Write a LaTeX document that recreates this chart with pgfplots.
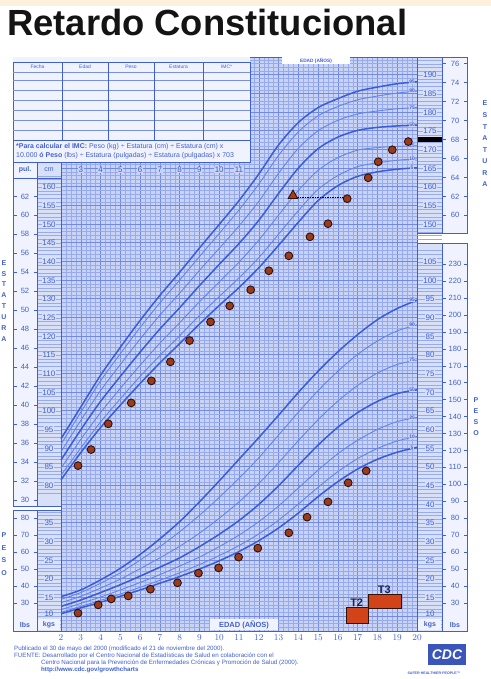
\documentclass[border=0pt]{standalone}
\usepackage{pgfplots}
\usepackage{pgfplotstable}
\pgfplotsset{compat=1.18}
\usepackage{fontspec}
\setmainfont{Liberation Sans}
\definecolor{cream}{HTML}{FDF1DC}
\definecolor{gridbg}{HTML}{C9D3F6}
\definecolor{gridminor}{HTML}{97AAEC}
\definecolor{gridmajor}{HTML}{7189E2}
\definecolor{colbg}{HTML}{D8E0F8}
\definecolor{colwhite}{HTML}{F0F3FE}
\definecolor{curvedark}{HTML}{3A5DD6}
\definecolor{curvelight}{HTML}{6585E6}
\definecolor{lab}{HTML}{4060D0}
\definecolor{pt}{HTML}{9A3B1E}
\definecolor{ptedge}{HTML}{2E1206}
\definecolor{tbox}{HTML}{D2431A}
\definecolor{navy}{HTML}{1C2050}

\pgfplotstableread{
age p5 p10 p25 p50 p75 p90 p95
2 81.5 82.7 84.6 86.8 89.0 91.0 92.5
3 88.8 90.0 92.3 94.9 97.4 99.6 101.0
4 95.5 97.0 99.5 102.5 105.4 108.0 109.5
5 101.5 103.2 106.0 109.2 112.4 115.3 117.0
6 107.3 109.2 112.2 115.7 119.2 122.3 124.2
7 112.8 114.8 118.1 121.9 125.6 128.9 130.9
8 118.0 120.1 123.6 127.6 131.5 135.0 137.1
9 123.2 125.5 129.2 133.5 137.6 141.3 143.6
10 128.2 130.6 134.5 139.2 143.5 147.5 149.9
11 133.0 135.6 139.8 144.8 149.5 153.8 156.3
12 138.3 141.0 145.7 151.0 156.1 160.7 163.4
13 144.3 147.3 152.4 158.2 163.6 168.4 171.2
14 150.5 153.6 159.0 165.0 170.3 174.7 177.2
15 156.3 159.3 164.4 170.2 175.0 179.0 181.2
16 160.3 163.0 167.8 173.3 177.8 181.5 183.6
17 162.8 165.4 169.8 175.1 179.5 183.3 185.6
18 164.0 166.4 170.5 175.9 180.3 184.3 186.7
19 164.7 167.1 170.8 176.3 180.9 185.1 187.6
20 165.1 167.5 171.0 176.5 181.2 185.6 188.1
}\stature

\pgfplotstableread{
age p5 p10 p25 p50 p75 p90 p95
2 10.6 11.0 11.7 12.6 13.6 14.5 15.2
3 12.2 12.6 13.4 14.3 15.3 16.3 17.0
4 13.7 14.2 15.1 16.3 17.5 18.8 19.7
5 15.3 15.9 17.0 18.4 19.9 21.6 22.8
6 17.0 17.7 19.0 20.7 22.7 25.0 26.5
7 18.8 19.6 21.1 23.1 25.6 28.6 30.7
8 20.6 21.6 23.4 25.6 28.7 32.6 35.3
9 22.6 23.8 25.8 28.6 32.2 37.0 40.6
10 24.8 26.2 28.6 31.9 36.2 41.8 46.2
11 27.3 28.9 31.7 35.6 40.6 46.9 52.0
12 30.2 32.0 35.3 39.9 45.5 52.4 57.8
13 33.6 35.7 39.5 44.9 51.1 58.5 63.8
14 37.6 40.0 44.3 50.4 57.0 64.6 69.9
15 42.0 44.5 49.1 55.8 62.6 70.4 75.6
16 46.0 48.7 53.5 60.6 67.6 75.6 80.8
17 49.4 52.2 57.1 64.5 71.8 80.1 85.4
18 52.0 54.9 60.0 67.5 75.1 83.7 89.4
19 53.9 56.9 62.1 69.6 77.4 86.4 92.4
20 55.2 58.1 63.2 70.6 78.6 88.0 94.6
}\weight

\pgfplotstableread{
age cm
2.86 85.3
3.52 89.6
4.39 96.5
5.55 102.1
6.57 108.0
7.53 113.1
8.50 118.8
9.56 123.8
10.53 128.1
11.59 132.4
12.51 137.5
13.52 141.5
14.59 146.6
15.50 150.1
16.47 156.8
17.53 162.4
18.04 166.7
18.75 169.9
19.56 172.1
}\patstat

\pgfplotstableread{
age kg
2.86 10.8
3.88 13.0
4.54 14.6
5.40 15.4
6.52 17.2
7.89 18.9
8.95 21.5
9.97 22.9
10.98 25.8
11.95 28.2
13.52 32.3
14.44 36.5
15.50 40.6
16.52 45.7
17.43 48.9
}\patweight

\pgfplotsset{
  base/.style={scale only axis, width=356bp, height=573.4bp, xmin=2, xmax=20, clip=false},
  thickc/.style={curvedark, line width=1.5bp, smooth},
  thinc/.style={curvelight, line width=0.9bp, smooth},
  patient/.style={only marks, mark=*, mark size=3.9bp, mark options={fill=pt, draw=ptedge, line width=0.9bp}},
}
\tikzset{pctlab/.style={font=\fontsize{5}{5}\selectfont\bfseries, text=lab, fill=gridbg, inner sep=0.4bp}}

\begin{document}
\begin{tikzpicture}[x=1bp,y=1bp]
\useasboundingbox (0,0) rectangle (491,-679);
\fill[white] (0,0) rectangle (491,-679);
\fill[cream] (0,0) rectangle (491,-6);
\coordinate (AX) at (61,-631);
\node[anchor=base west, inner sep=0, font=\fontsize{36.5}{36.5}\selectfont\bfseries, text=black!92] at (7,-36) {Retardo Constitucional};

% ---------- weight axis with the grid ----------
\begin{axis}[base, at={(AX)}, anchor=south west, ymin=6, ymax=159.6,
  axis background/.style={fill=gridbg},
  axis line style={lab, line width=0.6bp},
  xtick={2,...,20}, minor x tick num=3,
  ytick={5,10,...,160}, minor y tick num=4, yticklabels={},
  major tick length=0, minor tick length=0,
  grid=both,
  major grid style={gridmajor, line width=0.55bp},
  minor grid style={gridminor, line width=0.35bp},
  xticklabel style={font=\fontsize{9.5}{10}\selectfont, text=lab},
]
\addplot[thickc] table[x=age, y=p95] {\weight};
\addplot[thinc] table[x=age, y=p90] {\weight};
\addplot[thinc] table[x=age, y=p75] {\weight};
\addplot[thickc] table[x=age, y=p50] {\weight};
\addplot[thinc] table[x=age, y=p25] {\weight};
\addplot[thinc] table[x=age, y=p10] {\weight};
\addplot[thickc] table[x=age, y=p5] {\weight};
\node[pctlab] at (axis cs:19.75,94.6) {95};
\node[pctlab] at (axis cs:19.75,88.0) {90};
\node[pctlab] at (axis cs:19.75,78.6) {75};
\node[pctlab] at (axis cs:19.75,70.6) {50};
\node[pctlab] at (axis cs:19.75,63.2) {25};
\node[pctlab] at (axis cs:19.75,58.1) {10};
\node[pctlab] at (axis cs:19.75,55.2) {5};
\addplot[patient] table[x=age, y=kg] {\patweight};
% Tanner stage boxes
\addplot[fill=tbox, draw=ptedge, line width=0.8bp] coordinates {(16.41,8.1) (17.52,8.1) (17.52,12.4) (16.41,12.4) (16.41,8.1)};
\addplot[fill=tbox, draw=ptedge, line width=0.8bp] coordinates {(17.52,12.1) (19.19,12.1) (19.19,15.9) (17.52,15.9) (17.52,12.1)};
\node[anchor=south, inner sep=0.5bp, font=\fontsize{11}{11}\selectfont\bfseries, text=navy] at (axis cs:16.95,12.4) {T2};
\node[anchor=south, inner sep=0.5bp, font=\fontsize{11}{11}\selectfont\bfseries, text=navy] at (axis cs:18.35,15.9) {T3};
\end{axis}

% ---------- table at the top left ----------
\fill[colwhite] (13,-57.5) rectangle (250,-162);
\draw[lab, line width=0.5bp] (13,-62) rectangle (250,-140);
\foreach \yy in {72,80,90,100,110,120,130} \draw[lab!70, line width=0.45bp] (13,-\yy) -- (250,-\yy);
\foreach \xx in {62,108,154,203} \draw[lab, line width=0.45bp] (\xx,-62) -- (\xx,-140);
\foreach \xx/\t in {37.5/Fecha, 85/Edad, 131/Peso, 178.5/Estatura, 226.5/IMC*}
  \node[font=\fontsize{5}{5}\selectfont, text=lab] at (\xx,-67) {\t};
\draw[lab, line width=0.5bp] (13,-140) rectangle (250,-162);
\node[anchor=west, inner sep=0, font=\fontsize{7}{7}\selectfont, text=lab] at (16,-146.5)
  {\textbf{*Para calcular el IMC:} Peso (kg) ÷ Estatura (cm) ÷ Estatura (cm) x};
\node[anchor=west, inner sep=0, font=\fontsize{7}{7}\selectfont, text=lab] at (16,-156)
  {10.000 \textbf{ó Peso} (lbs) ÷ Estatura (pulgadas) ÷ Estatura (pulgadas) x 703};
% top age labels
\foreach \a in {3,...,11}
  \node[font=\fontsize{8}{8}\selectfont, text=lab, fill=gridbg, inner sep=0.6bp] at ({61+(\a-2)*19.78},-170) {\a};
% top EDAD box
\fill[white] (282,-57.5) rectangle (350,-64);
\node[font=\fontsize{4.8}{4.8}\selectfont\bfseries, text=lab] at (316,-60.8) {EDAD (AÑOS)};

% ---------- left columns ----------
\fill[colwhite] (13,-162) rectangle (37,-506);
\fill[colbg] (37,-162) rectangle (61,-506);
\fill[colwhite] (13,-510) rectangle (37,-631);
\fill[colbg] (37,-510) rectangle (61,-631);
\foreach \c in {78,...,163} \draw[gridminor, line width=0.3bp] (37,{-(187+(160-\c)*3.733)}) -- (61,{-(187+(160-\c)*3.733)});
\foreach \k in {7,...,38} \draw[gridminor, line width=0.3bp] (37,{-(616.3-(\k-10)*3.733)}) -- (61,{-(616.3-(\k-10)*3.733)});
\draw[lab, line width=0.5bp] (13,-162) rectangle (61,-506);
\draw[lab, line width=0.5bp] (37,-162) -- (37,-506);
\draw[lab, line width=0.5bp] (13,-510) rectangle (61,-631);
\draw[lab, line width=0.5bp] (37,-510) -- (37,-631);
\draw[lab, line width=0.5bp] (13,-178) -- (61,-178);
\node[font=\fontsize{7}{7}\selectfont\bfseries, text=lab] at (25,-170) {pul.};
\node[font=\fontsize{7}{7}\selectfont, text=lab] at (49,-170) {cm};
\foreach \c in {80,85,...,160}
  \node[font=\fontsize{8}{8}\selectfont, text=lab, fill=colbg, inner sep=0.5bp] at (49,{-(187+(160-\c)*3.733)}) {\c};
\foreach \i in {30,32,...,62} {
  \draw[lab, line width=0.45bp] (13,{-(187+(160-2.54*\i)*3.733)}) -- ++(3.5,0);
  \draw[lab, line width=0.45bp] (37,{-(187+(160-2.54*\i)*3.733)}) -- ++(-3.5,0);
  \node[font=\fontsize{7.6}{7.6}\selectfont, text=lab] at (25,{-(187+(160-2.54*\i)*3.733)}) {\i};
}
\foreach \k in {15,20,...,35}
  \node[font=\fontsize{8}{8}\selectfont, text=lab, fill=colbg, inner sep=0.5bp] at (49,{-(616.3-(\k-10)*3.733)}) {\k};
\foreach \l in {30,40,...,80} {
  \draw[lab, line width=0.45bp] (13,{-(616.3-(0.4536*\l-10)*3.733)}) -- ++(3.5,0);
  \draw[lab, line width=0.45bp] (37,{-(616.3-(0.4536*\l-10)*3.733)}) -- ++(-3.5,0);
  \node[font=\fontsize{7.6}{7.6}\selectfont, text=lab] at (25,{-(616.3-(0.4536*\l-10)*3.733)}) {\l};
}
\node[font=\fontsize{8}{8}\selectfont, text=lab] at (49,-614) {10};
\fill[colwhite] (14,-619) rectangle (36,-630);
\fill[colwhite] (38,-619) rectangle (60,-630);
\node[font=\fontsize{7}{7}\selectfont\bfseries, text=lab] at (25,-624.5) {lbs};
\node[font=\fontsize{7}{7}\selectfont\bfseries, text=lab] at (49,-624.5) {kgs};
% bottom EDAD box
\fill[colwhite] (210,-619) rectangle (278,-630);
\node[font=\fontsize{7.5}{7.5}\selectfont\bfseries, text=lab] at (244,-624.5) {EDAD (AÑOS)};

% ---------- right columns ----------
\fill[colbg] (417,-57.5) rectangle (442,-233);
\fill[colwhite] (442,-57.5) rectangle (467,-233);
\fill[colbg] (417,-243) rectangle (442,-631);
\fill[colwhite] (442,-243) rectangle (467,-631);
\foreach \c in {145,...,194} \draw[gridminor, line width=0.3bp] (417,{-(187+(160-\c)*3.733)}) -- (442,{-(187+(160-\c)*3.733)});
\foreach \k in {7,...,108} \draw[gridminor, line width=0.3bp] (417,{-(616.3-(\k-10)*3.733)}) -- (442,{-(616.3-(\k-10)*3.733)});
\draw[lab, line width=0.5bp] (417,-57.5) rectangle (467,-233);
\draw[lab, line width=0.5bp] (442,-57.5) -- (442,-233);
\draw[lab, line width=0.5bp] (417,-243) rectangle (467,-631);
\draw[lab, line width=0.5bp] (442,-243) -- (442,-631);
\foreach \c in {150,155,...,190}
  \node[font=\fontsize{8}{8}\selectfont, text=lab, fill=colbg, inner sep=0.5bp] at (430,{-(187+(160-\c)*3.733)}) {\c};
\foreach \i in {60,62,...,76} {
  \draw[lab, line width=0.45bp] (442,{-(187+(160-2.54*\i)*3.733)}) -- ++(3.5,0);
  \draw[lab, line width=0.45bp] (467,{-(187+(160-2.54*\i)*3.733)}) -- ++(-3.5,0);
  \node[font=\fontsize{7.6}{7.6}\selectfont, text=lab] at (455,{-(187+(160-2.54*\i)*3.733)}) {\i};
}
\foreach \k in {15,20,...,105}
  \node[font=\fontsize{8}{8}\selectfont, text=lab, fill=colbg, inner sep=0.5bp] at (430,{-(616.3-(\k-10)*3.733)}) {\k};
\node[font=\fontsize{8}{8}\selectfont, text=lab] at (430,-614) {10};
\foreach \l in {30,40,...,230} {
  \draw[lab, line width=0.45bp] (442,{-(616.3-(0.4536*\l-10)*3.733)}) -- ++(3.5,0);
  \draw[lab, line width=0.45bp] (467,{-(616.3-(0.4536*\l-10)*3.733)}) -- ++(-3.5,0);
  \node[font=\fontsize{7.6}{7.6}\selectfont, text=lab] at (455,{-(616.3-(0.4536*\l-10)*3.733)}) {\l};
}
\fill[colwhite] (418,-619) rectangle (441,-630);
\fill[colwhite] (443,-619) rectangle (466,-630);
\node[font=\fontsize{7}{7}\selectfont\bfseries, text=lab] at (430,-624.5) {kgs};
\node[font=\fontsize{7}{7}\selectfont\bfseries, text=lab] at (455,-624.5) {lbs};

% vertical words
\node[font=\fontsize{7}{11}\selectfont\bfseries, text=lab, align=center] at (4,-301) {E\\S\\T\\A\\T\\U\\R\\A};
\node[font=\fontsize{7}{12.5}\selectfont\bfseries, text=lab, align=center] at (4,-554) {P\\E\\S\\O};
\node[font=\fontsize{7}{11.6}\selectfont\bfseries, text=lab, align=center] at (485,-144) {E\\S\\T\\A\\T\\U\\R\\A};
\node[font=\fontsize{7}{11}\selectfont\bfseries, text=lab, align=center] at (476,-417) {P\\E\\S\\O};

% ---------- footer ----------
\node[anchor=west, inner sep=0, font=\fontsize{6.2}{6.2}\selectfont, text=lab] at (14,-649) {Publicado el 30 de mayo del 2000 (modificado el 21 de noviembre del 2000).};
\node[anchor=west, inner sep=0, font=\fontsize{6.2}{6.2}\selectfont, text=lab] at (14,-656) {FUENTE: Desarrollado por el Centro Nacional de Estadísticas de Salud en colaboración con el};
\node[anchor=west, inner sep=0, font=\fontsize{6.2}{6.2}\selectfont, text=lab] at (41,-663) {Centro Nacional para la Prevención de Enfermedades Crónicas y Promoción de Salud (2000).};
\node[anchor=west, inner sep=0, font=\fontsize{6.2}{6.2}\selectfont\bfseries, text=lab] at (41,-670) {http://www.cdc.gov/growthcharts};
\fill[lab!90!black] (428,-644) rectangle (466,-665);
\node[font=\fontsize{14}{14}\selectfont\bfseries\itshape, text=white] at (447,-654.5) {CDC};
\node[font=\fontsize{3.6}{3.6}\selectfont\bfseries, text=lab] at (434,-673) {SAFER·HEALTHIER·PEOPLE™};

% ---------- stature axis ----------
\begin{axis}[base, at={(AX)}, anchor=south west, ymin=41, ymax=194.6, hide axis]
\addplot[thickc] table[x=age, y=p95] {\stature};
\addplot[thinc] table[x=age, y=p90] {\stature};
\addplot[thinc] table[x=age, y=p75] {\stature};
\addplot[thickc] table[x=age, y=p50] {\stature};
\addplot[thinc] table[x=age, y=p25] {\stature};
\addplot[thinc] table[x=age, y=p10] {\stature};
\addplot[thickc] table[x=age, y=p5] {\stature};
\node[pctlab] at (axis cs:19.75,188.1) {95};
\node[pctlab] at (axis cs:19.75,185.6) {90};
\node[pctlab] at (axis cs:19.75,181.2) {75};
\node[pctlab] at (axis cs:19.75,176.5) {50};
\node[pctlab] at (axis cs:19.75,171.0) {25};
\node[pctlab] at (axis cs:19.75,167.5) {10};
\node[pctlab] at (axis cs:19.75,165.1) {5};
\addplot[black, densely dotted, line width=1.5bp] coordinates {(13.95,157.1) (16.3,157.1)};
\addplot[only marks, mark=triangle*, mark size=5.5bp, mark options={fill=tbox!85!black, draw=ptedge, line width=0.9bp}] coordinates {(13.73,157.6)};
\addplot[patient] table[x=age, y=cm] {\patstat};
\addplot[black, line width=4.5bp] coordinates {(20.05,172.6) (21.26,172.6)};
\end{axis}
\end{tikzpicture}
\end{document}
